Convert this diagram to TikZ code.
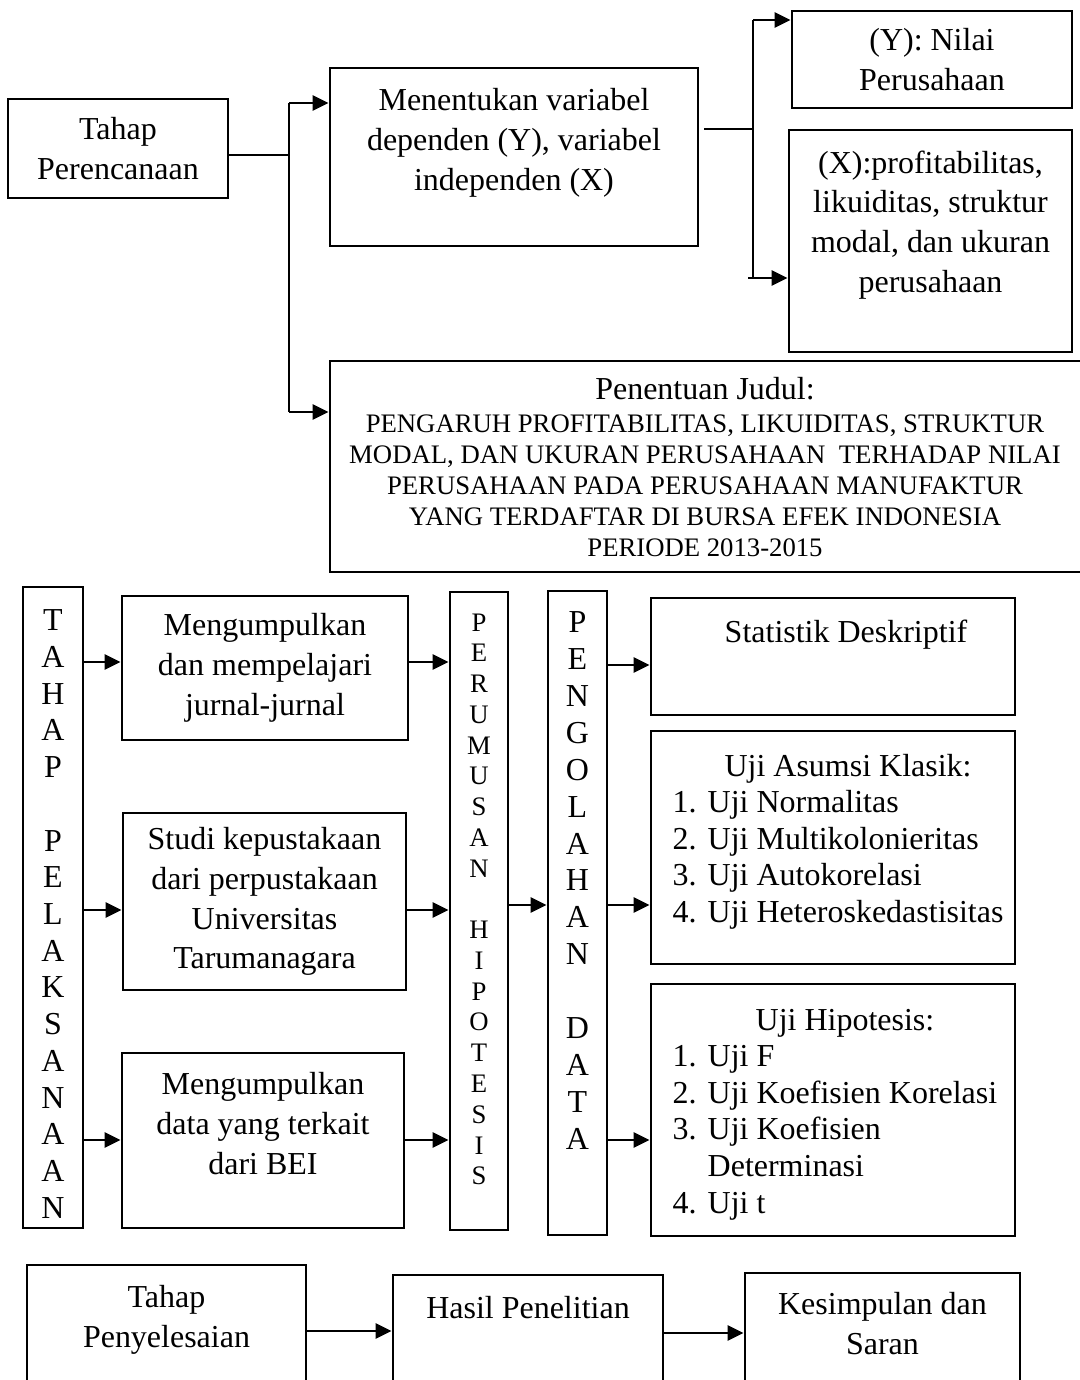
\documentclass[tikz,border=0pt]{standalone}
\usepackage{fontspec}
\setmainfont{Liberation Serif}
\usetikzlibrary{arrows.meta, positioning, calc}
\newcommand{\mainsize}{\fontsize{9.1}{11.3}\selectfont}
\newcommand{\capsize}{\fontsize{7.6}{8.9}\selectfont}
\tikzset{
	box/.style={rectangle, draw, line width=0.8pt, inner sep=0pt, align=center, font=\mainsize},
	txt/.style={inner sep=0pt, align=center, font=\mainsize},
	line/.style={draw, line width=0.8pt, -{Triangle[length=1.6mm, width=1.5mm]}},
	plain/.style={draw, line width=0.8pt}
}

\begin{document}
\begin{tikzpicture}[x=1cm, y=-1cm]
	\useasboundingbox (0,0) rectangle (10.8,13.8);
	\clip (0,0) rectangle (10.8,13.8);
	
	% Tahap perencanaan (top)
	\node[box, minimum width=2.20cm, minimum height=0.99cm] (perencanaan) at (1.18,1.485) {Tahap\\Perencanaan};
	\node[box, minimum width=3.68cm, minimum height=1.78cm] (variabel) at (5.14,1.57) {};
	\node[txt, anchor=north] (variabel_text) at (5.14,0.88) {Menentukan variabel\\dependen (Y), variabel\\independen (X)};
	\node[box, minimum width=2.80cm, minimum height=0.97cm] (nilai) at (9.32,0.595) {(Y): Nilai\\Perusahaan};
	\node[box, minimum width=2.83cm, minimum height=2.22cm] (profit) at (9.305,2.41) {};
	\node[txt, anchor=north] (profit_text) at (9.305,1.50) {(X):profitabilitas,\\likuiditas, struktur\\modal, dan ukuran\\perusahaan};
	\node[box, minimum width=7.70cm, minimum height=2.11cm] (judul) at (7.15,4.665) {};
	\node[txt, anchor=north] (judul_text) at (7.05,3.77) {Penentuan Judul:\\[-2pt]
		{\capsize PENGARUH PROFITABILITAS, LIKUIDITAS, STRUKTUR}\\[-2.5pt]
		{\capsize MODAL, DAN UKURAN PERUSAHAAN\ \ TERHADAP NILAI}\\[-2.5pt]
		{\capsize PERUSAHAAN PADA PERUSAHAAN MANUFAKTUR}\\[-2.5pt]
		{\capsize YANG TERDAFTAR DI BURSA EFEK INDONESIA}\\[-2.5pt]
		{\capsize PERIODE 2013-2015}};
	
	% buses of the top part
	\coordinate (bus_left_top) at (2.89,1.03);
	\coordinate (bus_left_bottom) at (2.89,4.12);
	\coordinate (bus_right_top) at (7.53,0.20);
	\coordinate (bus_right_bottom) at (7.53,2.78);
	
	\draw[plain] (perencanaan.east |- 0,1.55) -- (bus_left_top |- 0,1.55);
	\draw[plain] (bus_left_top) -- (bus_left_bottom);
	\draw[line] (bus_left_top) -- (bus_left_top -| variabel.west);
	\draw[line] (bus_left_bottom) -- (bus_left_bottom -| judul.west);
	
	\draw[plain] ([xshift=0.05cm]variabel.east |- 0,1.29) -- (bus_right_top |- 0,1.29);
	\draw[plain] (bus_right_top) -- (bus_right_bottom);
	\draw[line] (bus_right_top) -- (bus_right_top -| nilai.west);
	\draw[line] ([xshift=-0.05cm]bus_right_bottom) -- (bus_right_bottom -| profit.west);
	
	% Tahap pelaksanaan (middle)
	\node[box, minimum width=0.60cm, minimum height=6.41cm] (pelaksanaan) at (0.53,9.075) {};
	\node[txt, font=\fontsize{9.1}{10.45}\selectfont] (pelaksanaan_text) at (0.53,9.14)
		{T\\A\\H\\A\\P\\~\\P\\E\\L\\A\\K\\S\\A\\N\\A\\A\\N};
	\node[box, minimum width=2.86cm, minimum height=1.44cm] (jurnal) at (2.65,6.68) {Mengumpulkan\\dan mempelajari\\jurnal-jurnal};
	\node[box, minimum width=2.83cm, minimum height=1.77cm] (studi) at (2.645,9.015) {Studi kepustakaan\\dari perpustakaan\\Universitas\\Tarumanagara};
	\node[box, minimum width=2.82cm, minimum height=1.75cm] (data) at (2.63,11.405) {};
	\node[txt, anchor=north] (data_text) at (2.63,10.72) {Mengumpulkan\\data yang terkait\\dari BEI};
	
	\node[box, minimum width=0.58cm, minimum height=6.38cm] (perumusan) at (4.79,9.11) {};
	\node[txt, anchor=north, font=\fontsize{7.6}{8.75}\selectfont] (perumusan_text) at (4.79,6.13)
		{P\\E\\R\\U\\M\\U\\S\\A\\N\\~\\H\\I\\P\\O\\T\\E\\S\\I\\S};
	\node[box, minimum width=0.59cm, minimum height=6.44cm] (pengolahan) at (5.775,9.13) {};
	\node[txt, anchor=north, font=\fontsize{9.1}{10.5}\selectfont] (pengolahan_text) at (5.775,6.11)
		{P\\E\\N\\G\\O\\L\\A\\H\\A\\N\\~\\D\\A\\T\\A};
	
	\node[box, minimum width=3.64cm, minimum height=1.17cm] (statistik) at (8.33,6.565) {};
	\node[txt, anchor=north] (statistik_text) at (8.46,6.19) {Statistik Deskriptif};
	\node[box, minimum width=3.64cm, minimum height=2.33cm] (asumsi) at (8.33,8.475) {};
	\node[txt, anchor=north west, font=\fontsize{9.1}{10.4}\selectfont] (asumsi_text) at (6.72,7.50)
		{\begin{tabular}{@{}p{0.35cm}@{}l@{}}
			\multicolumn{2}{c}{\hspace{0.2cm}Uji Asumsi Klasik:}\\
			1. & Uji Normalitas\\
			2. & Uji Multikolonieritas\\
			3. & Uji Autokorelasi\\
			4. & Uji Heteroskedastisitas
		\end{tabular}};
	\node[box, minimum width=3.64cm, minimum height=2.52cm] (hipotesis) at (8.33,11.10) {};
	\node[txt, anchor=north west, font=\fontsize{9.1}{10.4}\selectfont] (hipotesis_text) at (6.72,10.04)
		{\begin{tabular}{@{}p{0.35cm}@{}l@{}}
			\multicolumn{2}{c}{\hspace{0.2cm}Uji Hipotesis:}\\
			1. & Uji F\\
			2. & Uji Koefisien Korelasi\\
			3. & Uji Koefisien\\
			   & Determinasi\\
			4. & Uji t
		\end{tabular}};
	
	% arrows of the middle part
	\foreach \y/\target in {6.62/jurnal, 9.10/studi, 11.40/data}{
		\draw[line] (pelaksanaan.east |- 0,\y) -- (\target.west |- 0,\y);
		\draw[line] (\target.east |- 0,\y) -- (perumusan.west |- 0,\y);
	}
	\draw[line] (perumusan.east |- 0,9.05) -- (pengolahan.west |- 0,9.05);
	\foreach \y/\target in {6.65/statistik, 9.05/asumsi, 11.40/hipotesis}
		\draw[line] (pengolahan.east |- 0,\y) -- (\target.west |- 0,\y);
	
	% Tahap penyelesaian (bottom)
	\node[box, minimum width=2.79cm, minimum height=1.40cm] (penyelesaian) at (1.665,13.35) {};
	\node[txt, anchor=north] (penyelesaian_text) at (1.665,12.85) {Tahap\\Penyelesaian};
	\node[box, minimum width=2.70cm, minimum height=1.40cm] (hasil) at (5.28,13.45) {};
	\node[txt, anchor=north] (hasil_text) at (5.28,12.96) {Hasil Penelitian};
	\node[box, minimum width=2.75cm, minimum height=1.40cm] (kesimpulan) at (8.825,13.43) {};
	\node[txt, anchor=north] (kesimpulan_text) at (8.825,12.92) {Kesimpulan dan\\Saran};
	
	\draw[line] (penyelesaian.east |- 0,13.31) -- (hasil.west |- 0,13.31);
	\draw[line] (hasil.east |- 0,13.33) -- (kesimpulan.west |- 0,13.33);
	
\end{tikzpicture}
\end{document}
